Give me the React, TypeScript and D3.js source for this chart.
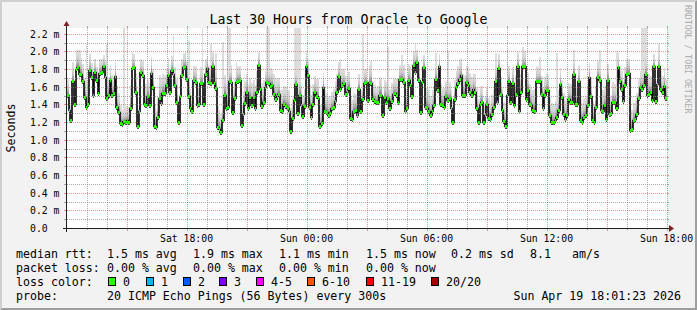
import React from "react";
import * as d3 from "d3";

// ---------- data ----------
const chartTitle = "Last 30 Hours from Oracle to Google";
const yAxisLabel = "Seconds";
const watermark = "RRDTOOL / TOBI OETIKER";
const startTime = new Date(2026, 3, 18, 12, 1, 23);
const endTime = new Date(2026, 3, 19, 18, 1, 23);
const yMaxMs = 2.266;
const yTickValues = [0.0, 0.2, 0.4, 0.6, 0.8, 1.0, 1.2, 1.4, 1.6, 1.8, 2.0, 2.2];
const yTickLabels = ["0.0", "0.2 m", "0.4 m", "0.6 m", "0.8 m", "1.0 m", "1.2 m", "1.4 m", "1.6 m", "1.8 m", "2.0 m", "2.2 m"];

// median RTT (ms), one value per probe round
const medianMs = [
  1.51,1.34,1.22,1.66,1.41,1.80,1.82,1.74,1.75,1.66,
  1.48,1.37,1.40,1.79,1.71,1.51,1.77,1.68,1.53,1.76,
  1.77,1.83,1.71,1.47,1.51,1.68,1.51,1.53,1.72,1.37,
  1.31,1.19,1.18,1.21,1.20,1.22,1.20,1.36,1.81,1.82,
  1.54,1.15,1.32,1.77,1.73,1.41,1.39,1.49,1.39,1.76,
  1.60,1.15,1.14,1.26,1.47,1.42,1.53,1.53,1.62,1.73,
  1.54,1.79,1.75,1.62,1.43,1.20,1.49,1.73,1.82,1.83,
  1.69,1.49,1.36,1.33,1.68,1.65,1.39,1.41,1.64,1.64,
  1.41,1.74,1.81,1.65,1.64,
  1.83,1.64,1.59,1.14,1.12,1.09,1.22,1.51,1.36,1.37,
  1.66,1.65,1.31,1.47,1.65,1.67,1.68,1.17,1.29,1.42,
  1.54,1.36,1.48,1.39,1.48,1.36,1.54,1.85,1.58,1.38,
  1.43,1.60,1.65,1.64,1.61,1.62,1.52,1.46,1.49,1.52,
  1.34,1.33,1.41,1.38,1.36,1.32,1.10,1.25,1.45,1.63,
  1.30,1.51,1.39,1.27,1.38,1.84,1.73,1.37,1.26,1.41,
  1.54,1.49,1.47,1.15,1.19,1.60,1.32,1.31,1.28,1.30,
  1.36,1.37,1.44,1.54,1.72,1.58,1.62,1.64,1.52,1.54,
  1.59,1.25,1.23,1.33,1.34,1.28,1.58,1.32,1.46,1.64,
  1.65,1.45,
  1.65,1.64,1.46,1.44,1.43,1.43,1.51,1.51,1.28,1.48,
  1.43,1.47,1.36,1.44,1.52,1.53,1.51,1.43,1.69,1.69,
  1.65,1.32,1.36,1.68,1.62,1.49,1.85,1.77,1.88,1.68,
  1.31,1.65,1.82,1.37,1.36,1.32,1.28,1.32,1.39,1.69,
  1.56,1.83,1.41,1.39,1.37,1.49,1.45,1.47,1.36,1.20,
  1.46,1.60,1.64,1.69,1.73,1.51,1.51,1.65,1.62,1.54,
  1.51,1.58,1.54,1.36,1.20,1.41,1.43,1.20,1.28,1.41,
  1.25,1.23,1.29,1.37,1.67,1.43,1.81,1.52,1.34,1.21,
  1.16,1.51,1.66,1.43,1.64,1.39,1.52,1.83,
  1.32,1.54,1.83,1.83,1.46,1.56,1.41,1.39,1.34,1.33,
  1.66,1.66,1.66,1.52,1.36,1.51,1.56,1.56,1.28,1.20,
  1.20,1.22,1.26,1.34,1.63,1.48,1.29,1.23,1.28,1.46,
  1.43,1.43,1.75,1.41,1.41,1.66,1.22,1.20,1.26,1.28,
  1.39,1.71,1.49,1.22,1.20,1.37,1.71,1.68,1.34,1.32,
  1.39,1.24,1.68,1.29,1.30,1.43,1.43,1.36,1.82,1.66,
  1.58,1.44,1.62,1.74,1.76,1.11,1.12,1.22,1.23,1.29,
  1.47,1.60,1.58,1.62,1.75,1.51,1.52,1.54,1.45,1.83,
  1.44,1.63,1.83,1.58,1.54,1.61,1.47,
];

// upper smoke spread above the median (ms)
const smokeSpreadMs = [
  0.18,0.15,0.20,0.22,0.25,0.22,0.20,0.24,0.18,0.20,
  0.22,0.25,0.28,0.18,0.16,0.22,0.15,0.14,0.20,0.16,
  0.14,0.13,0.18,0.22,0.20,0.15,0.22,0.18,0.16,0.24,
  0.22,0.20,0.16,0.14,0.18,0.15,0.17,0.26,0.18,0.15,
  0.22,0.20,0.28,0.14,0.16,0.22,0.24,0.20,0.25,0.18,
  0.20,0.25,0.18,0.22,0.26,0.28,0.22,0.20,0.18,0.20,
  0.24,0.16,0.18,0.20,0.26,0.24,0.22,0.18,0.16,0.17,
  0.20,0.24,0.22,0.18,0.16,0.18,0.22,0.20,0.18,0.20,
  0.24,0.17,0.14,0.18,0.20,
  0.16,0.22,0.25,0.24,0.22,0.20,0.26,0.22,0.28,0.24,
  0.18,0.20,0.26,0.22,0.18,0.16,0.15,0.22,0.25,0.24,
  0.20,0.26,0.22,0.25,0.20,0.26,0.24,0.14,0.20,0.26,
  0.25,0.18,0.16,0.17,0.20,0.18,0.22,0.24,0.20,0.18,
  0.22,0.24,0.20,0.22,0.20,0.24,0.26,0.22,0.18,0.16,
  0.24,0.20,0.22,0.24,0.20,0.14,0.18,0.25,0.26,0.22,
  0.18,0.20,0.22,0.24,0.22,0.16,0.24,0.22,0.20,0.20,
  0.18,0.20,0.22,0.20,0.16,0.20,0.18,0.16,0.20,0.18,
  0.18,0.24,0.22,0.20,0.18,0.22,0.16,0.24,0.20,0.16,
  0.15,0.20,
  0.20,0.22,0.20,0.18,0.16,0.18,0.20,0.18,0.22,0.20,
  0.22,0.18,0.22,0.20,0.18,0.16,0.18,0.22,0.16,0.18,
  0.20,0.24,0.22,0.18,0.20,0.24,0.16,0.18,0.14,0.20,
  0.26,0.18,0.14,0.22,0.24,0.26,0.22,0.24,0.22,0.18,
  0.20,0.14,0.22,0.20,0.22,0.18,0.20,0.18,0.22,0.24,
  0.22,0.18,0.20,0.22,0.20,0.24,0.22,0.18,0.20,0.22,
  0.20,0.18,0.20,0.24,0.26,0.20,0.18,0.22,0.20,0.18,
  0.22,0.20,0.22,0.20,0.16,0.22,0.16,0.20,0.24,0.22,
  0.24,0.20,0.18,0.22,0.18,0.24,0.20,0.16,
  0.22,0.20,0.16,0.18,0.22,0.20,0.22,0.20,0.22,0.24,
  0.18,0.16,0.18,0.20,0.24,0.20,0.18,0.16,0.20,0.22,
  0.20,0.22,0.24,0.22,0.18,0.20,0.24,0.22,0.20,0.18,
  0.20,0.22,0.16,0.20,0.22,0.18,0.24,0.22,0.20,0.22,
  0.24,0.16,0.20,0.22,0.20,0.24,0.18,0.16,0.22,0.24,
  0.22,0.24,0.18,0.22,0.20,0.22,0.20,0.24,0.16,0.18,
  0.20,0.22,0.20,0.18,0.16,0.24,0.22,0.20,0.22,0.24,
  0.22,0.18,0.20,0.18,0.16,0.20,0.22,0.18,0.20,0.14,
  0.22,0.18,0.15,0.20,0.18,0.20,0.22,
];

// rounds with a single slow ping far above the rest (index, max ping ms)
const smokeMaxIndex = [7, 11, 23, 33, 62, 71, 79, 84, 87, 91, 94, 95, 99, 117, 118, 133, 134, 135, 136, 140, 160, 173, 178, 188, 196, 204, 216, 223, 231, 251, 258, 264, 267, 277, 287, 297, 312, 322, 337, 338, 339, 347];
const smokeMaxMs = [2.02, 2.09, 2.09, 2.30, 2.17, 2.12, 2.30, 2.09, 1.98, 2.11, 2.30, 2.30, 1.88, 2.30, 2.30, 2.30, 2.30, 2.30, 2.30, 2.02, 1.92, 2.20, 1.89, 2.05, 1.96, 2.09, 1.98, 2.00, 1.87, 1.98, 2.02, 1.96, 2.05, 1.94, 1.98, 2.02, 2.02, 2.00, 2.30, 2.30, 2.30, 2.09];

const rttLegend = ["median rtt:", "1.5 ms avg", "1.9 ms max", "1.1 ms min", "1.5 ms now", "0.2 ms sd", "8.1", "am/s"];
const lossLegend = ["packet loss:", "0.00 % avg", "0.00 % max", "0.00 % min", "0.00 % now"];
const lossColorTitle = "loss color:";
const lossColorLabels = ["0", "1", "2", "3", "4-5", "6-10", "11-19", "20/20"];
const lossColorValues = ["#26ff00", "#00b8ff", "#0059ff", "#7e00ff", "#ff00ff", "#ff5500", "#ff0000", "#a00000"];
const probeLegend = ["probe:", "20 ICMP Echo Pings (56 Bytes) every 300s"];
const timestampLabel = "Sun Apr 19 18:01:23 2026";

// ---------- layout ----------
const W = 697;
const H = 310;
const X0 = 67;
const X1 = 667;
const Y0 = 228;
const Y1 = 28;
const MONO = "'DejaVu Sans Mono', 'Liberation Mono', monospace";
const rttX = [16, 107, 193, 279, 366, 451, 530, 572];
const boxX = [108, 146, 183, 219, 256, 307, 366, 431];

export default function App() {
  const xTime = d3.scaleTime().domain([startTime, endTime]).range([X0, X1]);
  const y = d3.scaleLinear().domain([0, yMaxMs]).range([Y0, Y1]);
  const N = medianMs.length;
  const step = (+endTime - +startTime) / N;
  const tAt = (i: number) => new Date(+startTime + i * step);
  const px = (i: number) => Math.round(xTime(tAt(i)));

  const maxByIndex = new Map<number, number>();
  smokeMaxIndex.forEach((idx, k) => maxByIndex.set(idx, smokeMaxMs[k]));

  const clipY = (v: number) => Math.max(Y1, v);

  // smoke columns
  const outlierRects: JSX.Element[] = [];
  const smokeRects: JSX.Element[] = [];
  medianMs.forEach((m, i) => {
    const xa = px(i);
    const xb = px(i + 1);
    const w = Math.max(1, xb - xa);
    const ym = y(m);
    const mx = maxByIndex.get(i);
    if (mx !== undefined) {
      const yt = clipY(y(mx));
      outlierRects.push(<rect key={"o" + i} x={xa} y={yt} width={w} height={ym - yt} fill="#dddddd" />);
    }
    const yt = clipY(y(m + smokeSpreadMs[i]));
    smokeRects.push(<rect key={"s" + i} x={xa} y={yt} width={w} height={ym + 3 - yt} fill="url(#smokeGrad)" />);
  });

  const pts: [number, number][] = medianMs.map((m, i) => [px(i), Math.round(y(m)) + 0.5]);
  pts.push([px(N), Math.round(y(medianMs[N - 1])) + 0.5]);
  const medLine = d3.line().curve(d3.curveStepAfter)(pts) || "";
  const band = d3
    .area<[number, number]>()
    .curve(d3.curveStepAfter)
    .x((d) => d[0])
    .y0((d) => d[1] + 1.5)
    .y1((d) => d[1] - 1.5)(pts) || "";

  // grid
  const hLines = d3.range(1, 23).map((k) => ({ v: k / 10, major: k % 2 === 0 }));
  const hours = d3.timeHour.range(startTime, endTime);
  const labelHours = hours.filter((h) => h.getHours() % 6 === 0);

  const gridMinor = "rgba(143,143,143,0.75)";
  const gridMajor = "rgba(222,79,79,0.6)";

  return (
    <svg
      width={W}
      height={H}
      viewBox={`0 0 ${W} ${H}`}
      style={{ position: "fixed", left: 0, top: 0, display: "block" }}
      fontFamily={MONO}
    >
      <defs>
        <linearGradient id="smokeGrad" x1="0" y1="1" x2="0" y2="0">
          <stop offset="0" stopColor="#404040" />
          <stop offset="0.1" stopColor="#5e5e5e" />
          <stop offset="0.25" stopColor="#959595" />
          <stop offset="0.45" stopColor="#c2c2c2" />
          <stop offset="0.7" stopColor="#d6d6d6" />
          <stop offset="1" stopColor="#dedede" />
        </linearGradient>
      </defs>
      {/* background + 3d frame */}
      <rect x={0} y={0} width={W} height={H} fill="#f2f2f2" />
      <polygon points={`0,0 ${W},0 ${W - 2},2 2,2 2,${H - 2} 0,${H}`} fill="#cfcfcf" />
      <polygon points={`${W},0 ${W},${H} 0,${H} 2,${H - 2} ${W - 2},${H - 2} ${W - 2},2`} fill="#9e9e9e" />
      {/* canvas */}
      <rect x={X0} y={Y1} width={X1 - X0} height={Y0 - Y1} fill="#ffffff" />

      {/* title */}
      <text x={W / 2} y={24} textAnchor="middle" fontSize={13.2} fill="#000">
        {chartTitle}
      </text>
      <text transform={`translate(14.5,128) rotate(-90)`} textAnchor="middle" fontSize={11.6} fill="#000">
        {yAxisLabel}
      </text>
      <text transform={`translate(684.5,5) rotate(90)`} textAnchor="start" fontSize={8.2} fill="#ababab">
        {watermark}
      </text>

      {/* data */}
      <g shapeRendering="crispEdges">
        {outlierRects}
        {smokeRects}
      </g>
      <path d={medLine} fill="none" stroke="#000000" strokeWidth={1.6} />
      <path d={band} fill="#26ff00" shapeRendering="crispEdges" />

      {/* grid */}
      <g shapeRendering="crispEdges">
        {hLines.map((g) => {
          const yy = Math.round(y(g.v)) + 0.5;
          const c = g.major ? gridMajor : gridMinor;
          return (
            <g key={"h" + g.v}>
              <line x1={X0} x2={X1} y1={yy} y2={yy} stroke={c} strokeDasharray="1,1" />
              <line x1={X0 - 3} x2={X0} y1={yy} y2={yy} stroke={c} />
              <line x1={X1} x2={X1 + 2} y1={yy} y2={yy} stroke={c} />
            </g>
          );
        })}
        {hours.map((h) => {
          const xx = Math.round(xTime(h)) + 0.5;
          const major = h.getHours() % 3 === 0;
          const c = major ? gridMajor : gridMinor;
          return (
            <g key={"v" + +h}>
              <line x1={xx} x2={xx} y1={Y1} y2={Y0} stroke={c} strokeDasharray="1,1" />
              <line x1={xx} x2={xx} y1={Y0} y2={Y0 + (major ? 3 : 2)} stroke={c} />
              <line x1={xx} x2={xx} y1={Y1 - 2} y2={Y1} stroke={c} />
            </g>
          );
        })}
      </g>

      {/* axes */}
      <g shapeRendering="crispEdges">
        <line x1={X0 - 4} x2={X1 + 3} y1={Y0 + 0.5} y2={Y0 + 0.5} stroke="#1f1f1f" />
        <line x1={X0 - 0.5} x2={X0 - 0.5} y1={Y0 + 4} y2={Y1 - 3} stroke="#1f1f1f" />
      </g>
      <polygon points={`${X1 + 2},${Y0 - 3} ${X1 + 2},${Y0 + 4} ${X1 + 7},${Y0 + 0.5}`} fill="#7f1f1f" />
      <polygon points={`${X0 - 3.5},${Y1 - 2} ${X0 + 2.5},${Y1 - 2} ${X0 - 0.5},${Y1 - 7}`} fill="#7f1f1f" />

      {/* y labels */}
      {yTickValues.map((v, i) => (
        <text key={"yl" + i} x={30} y={Math.round(y(v)) + 4} fontSize={9.8} fill="#000">
          {yTickLabels[i]}
        </text>
      ))}
      {/* x labels */}
      {labelHours.map((h) => (
        <text key={"xl" + +h} x={xTime(h)} y={241.5} textAnchor="middle" fontSize={9.8} fill="#000">
          {d3.timeFormat("%a %H:%M")(h)}
        </text>
      ))}

      {/* legend */}
      <g fontSize={11.6} fill="#000">
        {rttLegend.map((s, i) => (
          <text key={"r" + i} x={rttX[i]} y={258}>{s}</text>
        ))}
        {lossLegend.map((s, i) => (
          <text key={"l" + i} x={rttX[i]} y={272}>{s}</text>
        ))}
        <text x={16} y={286}>{lossColorTitle}</text>
        {lossColorLabels.map((s, i) => (
          <g key={"c" + i}>
            <rect x={boxX[i] + 0.5} y={277.5} width={7} height={8} fill={lossColorValues[i]} stroke="#000" strokeWidth={1} shapeRendering="crispEdges" />
            <text x={boxX[i] + 15} y={286}>{s}</text>
          </g>
        ))}
        <text x={16} y={300}>{probeLegend[0]}</text>
        <text x={107} y={300}>{probeLegend[1]}</text>
        <text x={681} y={300} textAnchor="end">{timestampLabel}</text>
      </g>
    </svg>
  );
}
